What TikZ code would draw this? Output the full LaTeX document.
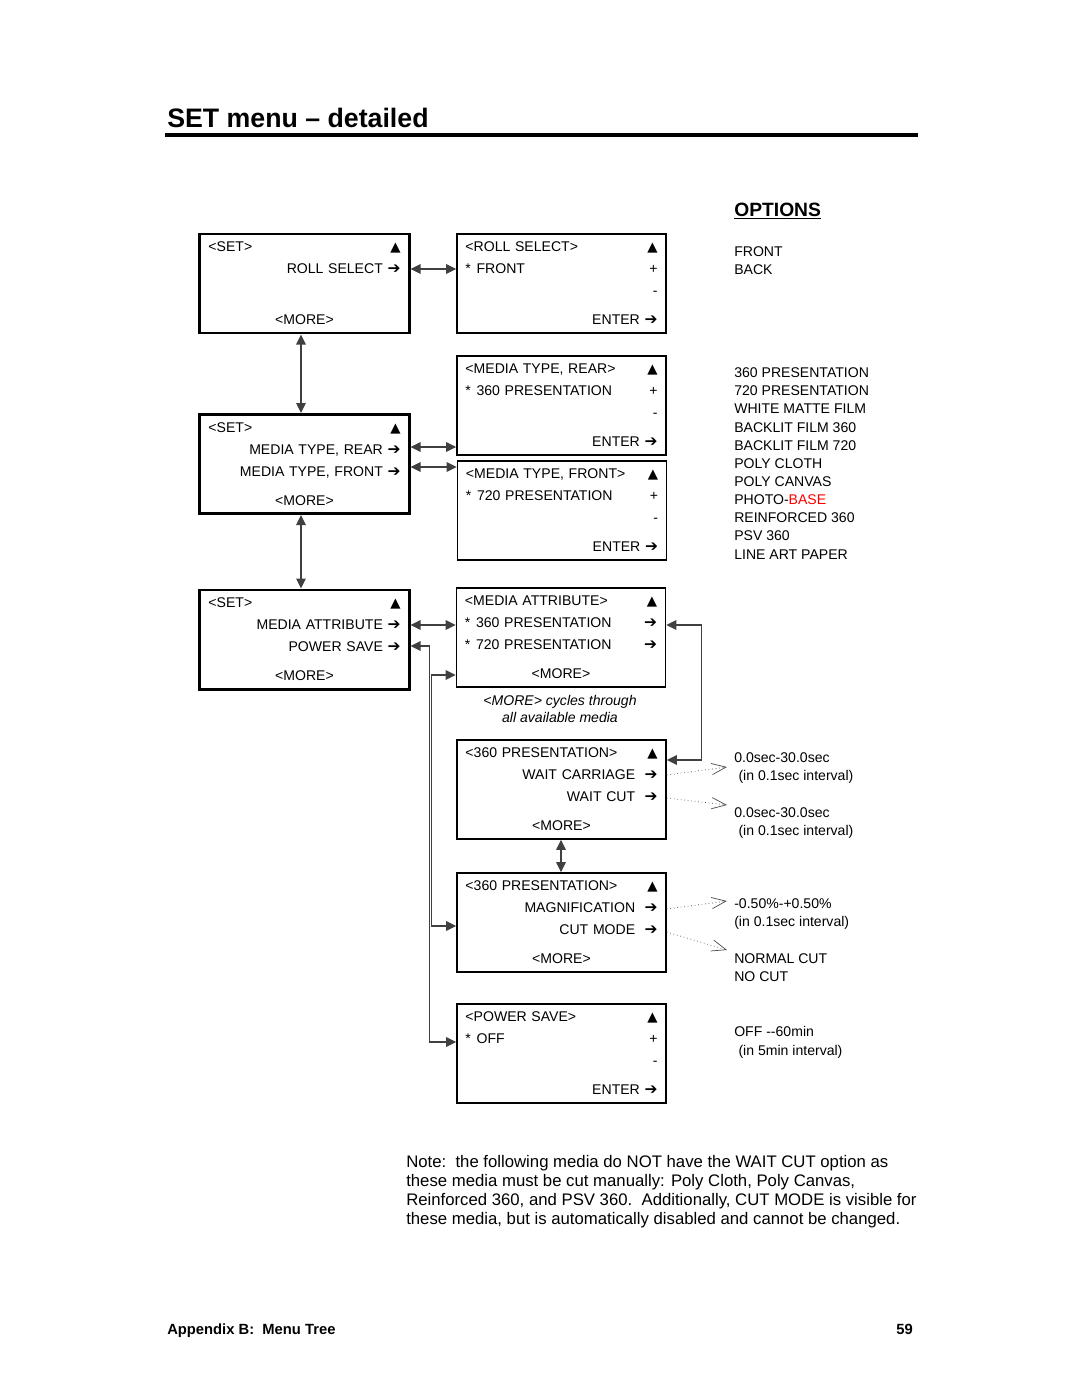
\documentclass[tikz,border=0pt]{standalone}
\usepackage{fontspec}
\setmainfont{Liberation Sans}
\newfontfamily\symfont{DejaVu Sans}
\usetikzlibrary{arrows.meta}

\newcommand{\tri}{{\symfont\fontsize{9.5}{9.5}\selectfont ▲}}
\newcommand{\rarr}{{\symfont\fontsize{11}{11}\selectfont ➔}}
\newcommand{\rt}{\hspace*{\fill}}
\newcommand{\ctr}[1]{\hspace*{\fill}#1\hspace*{\fill}\null}
\newcommand{\selmark}{{*}\hspace{4pt}}

\begin{document}
\begin{tikzpicture}[x=0.025cm,y=-0.025cm,
    >={Triangle[length=2.5mm,width=2.4mm]},
    setbox/.style={draw, line width=2.1pt, minimum width=5.225cm, minimum height=2.475cm,
        text width=4.8cm, inner xsep=0.2cm, align=left, font=\fontsize{10}{15.65}\selectfont},
    menubox/.style={setbox, line width=1.1pt},
    link/.style={<->, line width=0.8pt, draw=black!75},
    dotlink/.style={-{Straight Barb[length=3.6mm,width=2.8mm]}, dotted, line width=0.5pt, draw=black!70},
    opttext/.style={anchor=north west, inner sep=0pt, align=left, font=\fontsize{10}{12.9}\selectfont}]

\useasboundingbox (0,0) rectangle (1080,1397);

% heading
\node[anchor=base west, inner sep=0pt, font=\fontsize{19}{23}\selectfont\bfseries] (title) at (167,127) {SET menu – detailed};
\draw[line width=2.2pt] (165,135) -- (918,135);

% SET boxes
\node[setbox] (setroll) at (304.5,283.5) {<SET>\hfill\tri\\ \rt ROLL SELECT \rarr\\[20.6pt] \ctr{<MORE>}};
\node[setbox] (setmedia) at (304.5,464) {<SET>\hfill\tri\\ \rt MEDIA TYPE, REAR \rarr\\ \rt MEDIA TYPE, FRONT \rarr\\[5pt] \ctr{<MORE>}};
\node[setbox] (setattr) at (304.5,639.5) {<SET>\hfill\tri\\ \rt MEDIA ATTRIBUTE \rarr\\ \rt POWER SAVE \rarr\\[5pt] \ctr{<MORE>}};

% sub menus
\node[menubox] (roll) at (561.5,283.5) {<ROLL SELECT>\hfill\tri\\ \selmark FRONT\hfill+\\ \rt-\\[5pt] \rt ENTER \rarr};
\node[menubox] (rear) at (561.5,405.5) {<MEDIA TYPE, REAR>\hfill\tri\\ \selmark 360 PRESENTATION\hfill+\\ \rt-\\[5pt] \rt ENTER \rarr};
\node[menubox] (front) at (562,510.5) {<MEDIA TYPE, FRONT>\hfill\tri\\ \selmark 720 PRESENTATION\hfill+\\ \rt-\\[5pt] \rt ENTER \rarr};
\node[menubox] (attr) at (561,637.5) {<MEDIA ATTRIBUTE>\hfill\tri\\ \selmark 360 PRESENTATION\hfill\rarr\\ \selmark 720 PRESENTATION\hfill\rarr\\[5pt] \ctr{<MORE>}};
\node[align=center, inner sep=0pt, font=\fontsize{10}{12.1}\selectfont\itshape] (capt) at (560,708.5) {<MORE> cycles through\\all available media};
\node[menubox] (wait) at (561.5,789.5) {<360 PRESENTATION>\hfill\tri\\ \rt WAIT CARRIAGE~~\rarr\\ \rt WAIT CUT~~\rarr\\[5pt] \ctr{<MORE>}};
\node[menubox] (magn) at (561.5,922.5) {<360 PRESENTATION>\hfill\tri\\ \rt MAGNIFICATION~~\rarr\\ \rt CUT MODE~~\rarr\\[5pt] \ctr{<MORE>}};
\node[menubox] (power) at (561.5,1053.5) {<POWER SAVE>\hfill\tri\\ \selmark OFF\hfill+\\ \rt-\\[5pt] \rt ENTER \rarr};

% connectors
\draw[link] (setroll.east |- 0,269) -- (roll.west |- 0,269);
\draw[link] (setroll.south -| 301,0) -- (setmedia.north -| 301,0);
\draw[link] (setmedia.east |- 0,447) -- (rear.west |- 0,447);
\draw[link] (setmedia.east |- 0,467) -- (front.west |- 0,467);
\draw[link] (setmedia.south -| 301,0) -- (setattr.north -| 301,0);
\draw[link] (setattr.east |- 0,625) -- (attr.west |- 0,625);
\draw[link] (setattr.east |- 0,646) -- ++(19,0) |- (power.west |- 0,1042);
\draw[link] (attr.west |- 0,675) -- ++(-24,0) |- (magn.west |- 0,926);
\draw[link] (attr.east |- 0,625) -- ++(35,0) |- (wait.east |- 0,760);
\draw[link] (wait.south -| 561,0) -- (magn.north -| 561,0);

% options column
\node[anchor=base west, inner sep=0pt, font=\fontsize{13.7}{16}\selectfont\bfseries] (opthead) at (734,216) {\underline{OPTIONS}};
\node[opttext] (optroll) at (734,246.5) {FRONT\\BACK};
\node[opttext] (optmedia) at (734,367.5) {360 PRESENTATION\\720 PRESENTATION\\WHITE MATTE FILM\\BACKLIT FILM 360\\BACKLIT FILM 720\\POLY CLOTH\\POLY CANVAS\\PHOTO-\textcolor{red}{BASE}\\REINFORCED 360\\PSV 360\\LINE ART PAPER};
\node[opttext] (optcarr) at (734,752.5) {0.0sec-30.0sec\\\hspace{3pt}(in 0.1sec interval)};
\node[opttext] (optcut) at (734,807.5) {0.0sec-30.0sec\\\hspace{3pt}(in 0.1sec interval)};
\node[opttext] (optmagn) at (734,898.5) {-0.50\%-+0.50\%\\(in 0.1sec interval)};
\node[opttext] (optmode) at (734,953.5) {NORMAL CUT\\NO CUT};
\node[opttext] (optpower) at (734,1026.5) {OFF -{}-60min\\\hspace{3pt}(in 5min interval)};

\coordinate (tcarr) at (727,767);
\coordinate (tcut) at (727,805);
\coordinate (tmagn) at (727,901);
\coordinate (tmode) at (727,950);
\draw[dotlink] (wait.east |- 0,775) -- (tcarr);
\draw[dotlink] (wait.east |- 0,798) -- (tcut);
\draw[dotlink] (magn.east |- 0,909) -- (tmagn);
\draw[dotlink] (magn.east |- 0,932) -- (tmode);

% note and footer
\node[anchor=north west, inner sep=0pt, align=left, font=\fontsize{11.9}{13.5}\selectfont] (note) at (406,1155) {Note:\ \ the following media do NOT have the WAIT CUT option as\\these media must be cut manually: Poly Cloth, Poly Canvas,\\Reinforced 360, and PSV 360.\ \ Additionally, CUT MODE is visible for\\these media, but is automatically disabled and cannot be changed.};
\node[anchor=base west, inner sep=0pt, font=\fontsize{10.5}{12}\selectfont\bfseries] (foot) at (167,1334) {Appendix B:\ \ Menu Tree};
\node[anchor=base east, inner sep=0pt, font=\fontsize{10.5}{12}\selectfont\bfseries] (page) at (913,1334) {59};
\end{tikzpicture}
\end{document}
